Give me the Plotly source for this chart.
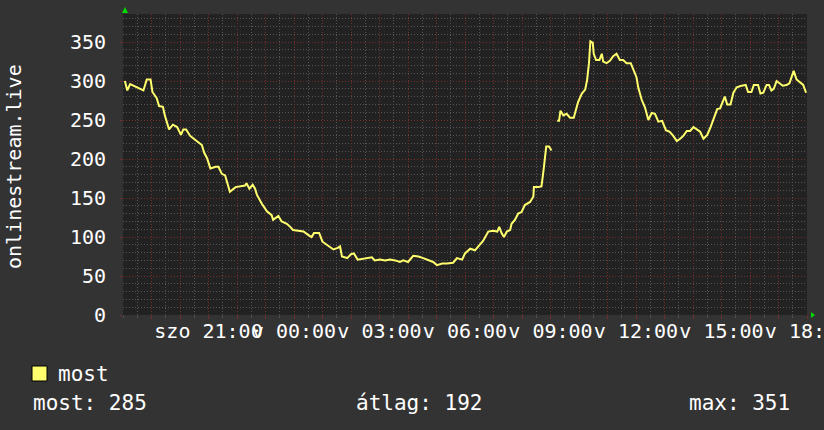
import pandas as pd
import plotly.graph_objects as go

# minutes after sat 18:00, and viewer counts (None = gap in data)
MINUTES = [4, 9, 15, 22, 32, 43, 50, 58, 62, 71, 76, 84, 88, 92, 97, 105, 114, 122, 127, 133,
           141, 149, 158, 166, 171, 177, 184, 195, 201, 208, 215, 220, 225, 237, 246, 257, 260, 266,
           273, 278, 282, 292, 303, 313, 316, 327, 334, 345, 352, 358, 369, 380, 389, 397, 402, 413,
           420, 430, 443, 452, 457, 461, 472, 480, 486, 494, 503, 514, 524, 530, 541, 552, 562, 573,
           583, 590, 600, 611, 622, 632, 646, 653, 661, 672, 682, 695, 703, 714, 720, 731, 741, 748,
           758, 769, 779, 788, 792, 797, 802, 808, 815, 818, 825, 832, 839, 846, 857, 864, 865, 874,
           881, 885, 888, 891, 897, 902, 908, 914, 918, 921, 927, 934, 941, 949, 955, 958, 966, 973,
           977, 981, 984, 989, 991, 996, 1003, 1008, 1011, 1018, 1025, 1032, 1039, 1046, 1053, 1060,
           1069, 1074, 1081, 1085, 1092, 1099, 1106, 1113, 1120, 1127, 1135, 1143, 1151, 1158, 1166,
           1173, 1180, 1187, 1194, 1201, 1208, 1215, 1222, 1230, 1237, 1244, 1251, 1257, 1264, 1267,
           1272, 1279, 1285, 1292, 1302, 1311, 1316, 1323, 1328, 1337, 1342, 1348, 1355, 1360, 1365,
           1370, 1376, 1383, 1389, 1397, 1403, 1408, 1412, 1418, 1427, 1432, 1438]
VIEWERS = [300, 288, 296, 294, 291, 288, 302, 302, 286, 278, 268, 267, 256, 248, 238, 244, 241, 231,
           238, 238, 230, 226, 222, 218, 208, 201, 188, 190, 190, 181, 179, 169, 158, 164, 165, 166,
           169, 162, 167, 162, 154, 143, 133, 128, 122, 127, 120, 117, 113, 109, 108, 107, 103, 100,
           105, 105, 94, 90, 84, 86, 88, 75, 73, 78, 79, 71, 72, 73, 74, 70, 71, 70, 71, 70, 68, 70,
           68, 76, 75, 73, 70, 68, 64, 66, 66, 67, 73, 71, 79, 85, 83, 88, 95, 107, 108, 107, 113,
           105, 100, 107, 109, 117, 122, 130, 132, 141, 145, 152, 164, 164, 165, 184, 199, 216, 216,
           211, None, 249, 249, 262, 256, 258, 253, 253, 265, 273, 284, 289, 301, 323, 351, 349, 335,
           327, 327, 335, 325, 323, 326, 332, 335, 327, 327, 323, 323, 315, 305, 291, 276, 266, 250,
           259, 258, 248, 249, 237, 235, 230, 223, 226, 230, 236, 236, 241, 238, 235, 226, 231, 241,
           254, 264, 265, 276, 280, 270, 270, 285, 292, 294, 295, 286, 286, 295, 295, 284, 285, 295,
           295, 288, 290, 300, 297, 294, 295, 297, 306, 313, 302, 298, 295, 285]

START = pd.Timestamp("2024-03-02 18:00")
END = pd.Timestamp("2024-03-03 18:00")
TICK_HOURS = list(range(3, 25, 3))
TICK_LABELS = ["szo 21:00", "v 00:00", "v 03:00", "v 06:00", "v 09:00", "v 12:00", "v 15:00", "v 18:00"]
SERIES_NAME = "most"
AXIS_TITLE = "onlinestream.live"
STAT_LAST = 285
STAT_AVG = 192
STAT_MAX = 351

BG = "rgb(51,51,51)"
PLOT_BG = "rgb(34,34,34)"
LINE_COLOUR = "rgb(255,255,110)"
MAJOR_GRID = "rgb(120,45,45)"
MINOR_GRID = "rgb(85,85,85)"
DOTS = "1px,2px"
FONT = "DejaVu Sans Mono"

W, H = 824, 430
L, R, T, B = 123, 17, 14, 115
PW, PH = W - L - R, H - T - B


def px_x(px):
    return (px - L) / PW


def px_y(py):
    return (H - B - py) / PH


times = [START + pd.Timedelta(minutes=m) for m in MINUTES]

fig = go.Figure(go.Scatter(x=times, y=VIEWERS, mode="lines", name=SERIES_NAME,
                           line={"color": LINE_COLOUR, "width": 2}, connectgaps=False,
                           hoverinfo="skip"))

tickvals = [START + pd.Timedelta(hours=h) for h in range(1, 25)]
ticktext = []
for h in range(1, 25):
    ticktext.append(TICK_LABELS[TICK_HOURS.index(h)] if h in TICK_HOURS else "")

fig.update_xaxes(range=[START, END], tickmode="array", tickvals=tickvals, ticktext=ticktext,
                 tickangle=0, ticklabeloverflow="allow", ticklabelstandoff=-5,
                 showgrid=True, gridcolor=MAJOR_GRID, griddash=DOTS, gridwidth=1,
                 ticks="outside", ticklen=3, tickcolor=MAJOR_GRID,
                 minor={"dtick": 30 * 60 * 1000, "tick0": START, "showgrid": True,
                        "gridcolor": MINOR_GRID, "griddash": DOTS, "ticks": "outside",
                        "ticklen": 2, "tickcolor": MINOR_GRID},
                 tickfont={"family": FONT, "size": 20, "color": "white"},
                 zeroline=False, showline=False, automargin=False, fixedrange=True)
fig.update_yaxes(range=[0, 386], tick0=0, dtick=50,
                 showgrid=True, gridcolor=MAJOR_GRID, griddash=DOTS, gridwidth=1,
                 ticks="outside", ticklen=2, tickcolor=MAJOR_GRID, ticklabelstandoff=10,
                 minor={"dtick": 10, "showgrid": True, "gridcolor": MINOR_GRID,
                        "griddash": DOTS},
                 tickfont={"family": FONT, "size": 20, "color": "white"},
                 zeroline=False, showline=False, automargin=False, fixedrange=True)

# green axis arrows
fig.add_shape(type="path", xref="paper", yref="paper", xsizemode="pixel", ysizemode="pixel",
              xanchor=0, yanchor=1, path="M -1,1 L 5,1 L 2,7 Z",
              fillcolor="rgb(0,220,0)", line={"width": 0})
fig.add_shape(type="path", xref="paper", yref="paper", xsizemode="pixel", ysizemode="pixel",
              xanchor=1, yanchor=0, path="M 4,3 L 4,-3 L 8,0 Z",
              fillcolor="rgb(0,220,0)", line={"width": 0})

# legend box
fig.add_shape(type="rect", xref="paper", yref="paper", x0=px_x(32), x1=px_x(47),
              y0=px_y(381), y1=px_y(366), fillcolor=LINE_COLOUR, line={"color": "black", "width": 1})

text_font = {"family": FONT, "size": 21, "color": "white"}
fig.add_annotation(x=px_x(56), y=px_y(374), xref="paper", yref="paper", text=SERIES_NAME,
                   showarrow=False, xanchor="left", yanchor="middle", font=text_font)
fig.add_annotation(x=px_x(31), y=px_y(403), xref="paper", yref="paper", text=f"most: {STAT_LAST}",
                   showarrow=False, xanchor="left", yanchor="middle", font=text_font)
fig.add_annotation(x=px_x(419), y=px_y(403), xref="paper", yref="paper", text=f"átlag: {STAT_AVG}",
                   showarrow=False, xanchor="center", yanchor="middle", font=text_font)
fig.add_annotation(x=px_x(792), y=px_y(403), xref="paper", yref="paper", text=f"max: {STAT_MAX}",
                   showarrow=False, xanchor="right", yanchor="middle", font=text_font)
fig.add_annotation(x=px_x(14), y=px_y(167), xref="paper", yref="paper", text=AXIS_TITLE,
                   showarrow=False, textangle=-90, xanchor="center", yanchor="middle",
                   font={"family": FONT, "size": 20, "color": "white"})

fig.update_layout(width=W, height=H, margin={"l": L, "r": R, "t": T, "b": B},
                  paper_bgcolor=BG, plot_bgcolor=PLOT_BG, showlegend=False)

fig.write_html("out.html", config={"displayModeBar": False},
               post_script="document.body.style.margin='0';")
